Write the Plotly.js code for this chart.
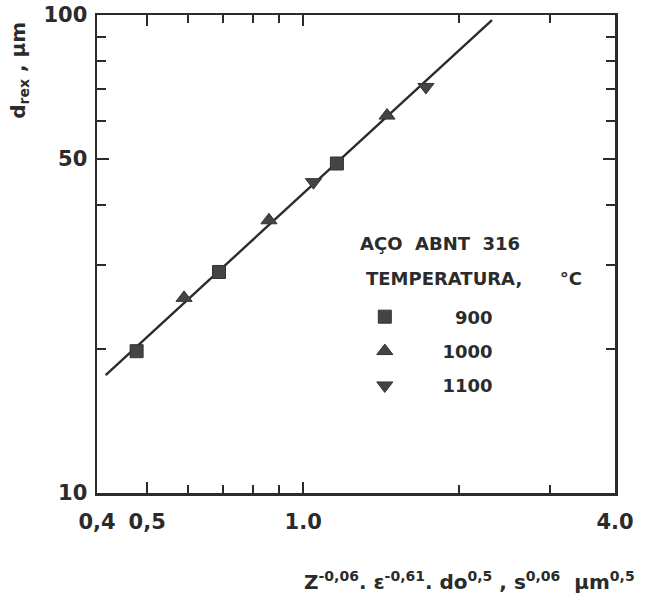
<!DOCTYPE html>
<html>
<head>
<meta charset="utf-8">
<script src="https://cdn.plot.ly/plotly-3.0.1.min.js"></script>
<style>html,body{margin:0;padding:0;background:#fff;}#chart{width:645px;height:610px;}</style>
</head>
<body>
<div id="chart"></div>
<script>
// Data (log-log plot)
const x900 = [0.477, 0.688, 1.162];
const y900 = [19.8, 29.0, 48.9];
const x1000 = [0.589, 0.859, 1.452];
const y1000 = [25.6, 37.2, 61.6];
const x1100 = [1.047, 1.726];
const y1100 = [44.7, 70.7];
const fitX = [0.4157, 2.315];
const fitY = [17.65, 97.6];

const xTickVals = [0.4, 0.5, 1.0, 4.0];
const xTickText = ['0,4', '0,5', '1.0', '4.0'];
const xMinorVals = [0.6, 0.7, 0.8, 0.9, 2, 3];
const yTickVals = [10, 50, 100];
const yTickText = ['10', '50', '100'];
const yMinorVals = [20, 30, 40, 60, 70, 80, 90];

const ink = '#2b2b2b';
const font = {family: 'DejaVu Sans', size: 21, color: ink, weight: 'bold'};
const nb = n => '\u00a0'.repeat(n);

const traces = [
  {x: fitX, y: fitY, mode: 'lines', line: {color: ink, width: 2.4}, showlegend: false, hoverinfo: 'skip'},
  {x: x900, y: y900, mode: 'markers', name: nb(8) + '900', legendgroup: 'a',
   marker: {symbol: 'square', size: 13, color: '#444', line: {color: '#333', width: 1}}},
  {x: x1000, y: y1000, mode: 'markers', name: nb(6) + '1000', legendgroup: 'b',
   marker: {symbol: 'triangle-up', size: 14, color: '#444', line: {color: '#333', width: 1}}},
  {x: x1100, y: y1100, mode: 'markers', name: nb(6) + '1100', legendgroup: 'c',
   marker: {symbol: 'triangle-down', size: 14, color: '#444', line: {color: '#333', width: 1}}}
];

const legFont = {family: 'DejaVu Sans', size: 18, color: ink, weight: 'bold'};

const layout = {
  width: 645, height: 610,
  margin: {l: 97, r: 30, t: 15, b: 117},
  paper_bgcolor: '#fff', plot_bgcolor: '#fff',
  showlegend: true,
  legend: {
    x: 0.517, y: 0.407, xanchor: 'left', yanchor: 'top',
    bgcolor: 'rgba(0,0,0,0)',
    font: legFont,
    tracegroupgap: 8,
    itemwidth: 30
  },
  xaxis: {
    type: 'log', range: [Math.log10(0.4), Math.log10(4.0)],
    tickmode: 'array', tickvals: xTickVals, ticktext: xTickText,
    ticks: 'inside', ticklen: 11, tickwidth: 2, tickcolor: ink,
    minor: {tickmode: 'array', tickvals: xMinorVals, ticks: 'inside', ticklen: 8, tickwidth: 2, tickcolor: ink, showgrid: false},
    showline: true, linewidth: 2.5, linecolor: ink, mirror: 'ticks',
    showgrid: false, zeroline: false,
    tickfont: font, ticklabelstandoff: 8
  },
  yaxis: {
    type: 'log', range: [1, 2],
    tickmode: 'array', tickvals: yTickVals, ticktext: yTickText,
    ticks: 'inside', ticklen: 12, tickwidth: 2, tickcolor: ink,
    minor: {tickmode: 'array', tickvals: yMinorVals, ticks: 'inside', ticklen: 9, tickwidth: 2, tickcolor: ink, showgrid: false},
    showline: true, linewidth: 2.5, linecolor: ink, mirror: 'ticks',
    showgrid: false, zeroline: false,
    tickfont: font, ticklabelstandoff: 3
  },
  annotations: [
    {text: 'AÇO' + nb(2) + 'ABNT' + nb(2) + '316', xref: 'paper', yref: 'paper', x: 0.504, y: 0.521, xanchor: 'left', yanchor: 'middle',
     showarrow: false, font: legFont},
    {text: 'TEMPERATURA,' + nb(6) + '°C', xref: 'paper', yref: 'paper', x: 0.516, y: 0.448, xanchor: 'left', yanchor: 'middle',
     showarrow: false, font: legFont},
    {text: 'd<sub>rex</sub> , µm', xref: 'paper', yref: 'paper', x: -0.15, y: 0.884, xanchor: 'center', yanchor: 'middle',
     textangle: -90, showarrow: false, font: {family: 'DejaVu Sans', size: 20, color: ink, weight: 'bold'}},
    {text: 'Z<sup>-0,06</sup>. ε<sup>-0,61</sup>. do<sup>0,5</sup> , s<sup>0,06</sup>  µm<sup>0,5</sup>',
     xref: 'paper', yref: 'paper', x: 1.042, y: -0.185, xanchor: 'right', yanchor: 'middle',
     showarrow: false, font: {family: 'DejaVu Sans', size: 20, color: ink, weight: 'bold'}}
  ]
};

Plotly.newPlot('chart', traces, layout, {displayModeBar: false, staticPlot: true});
</script>
</body>
</html>
